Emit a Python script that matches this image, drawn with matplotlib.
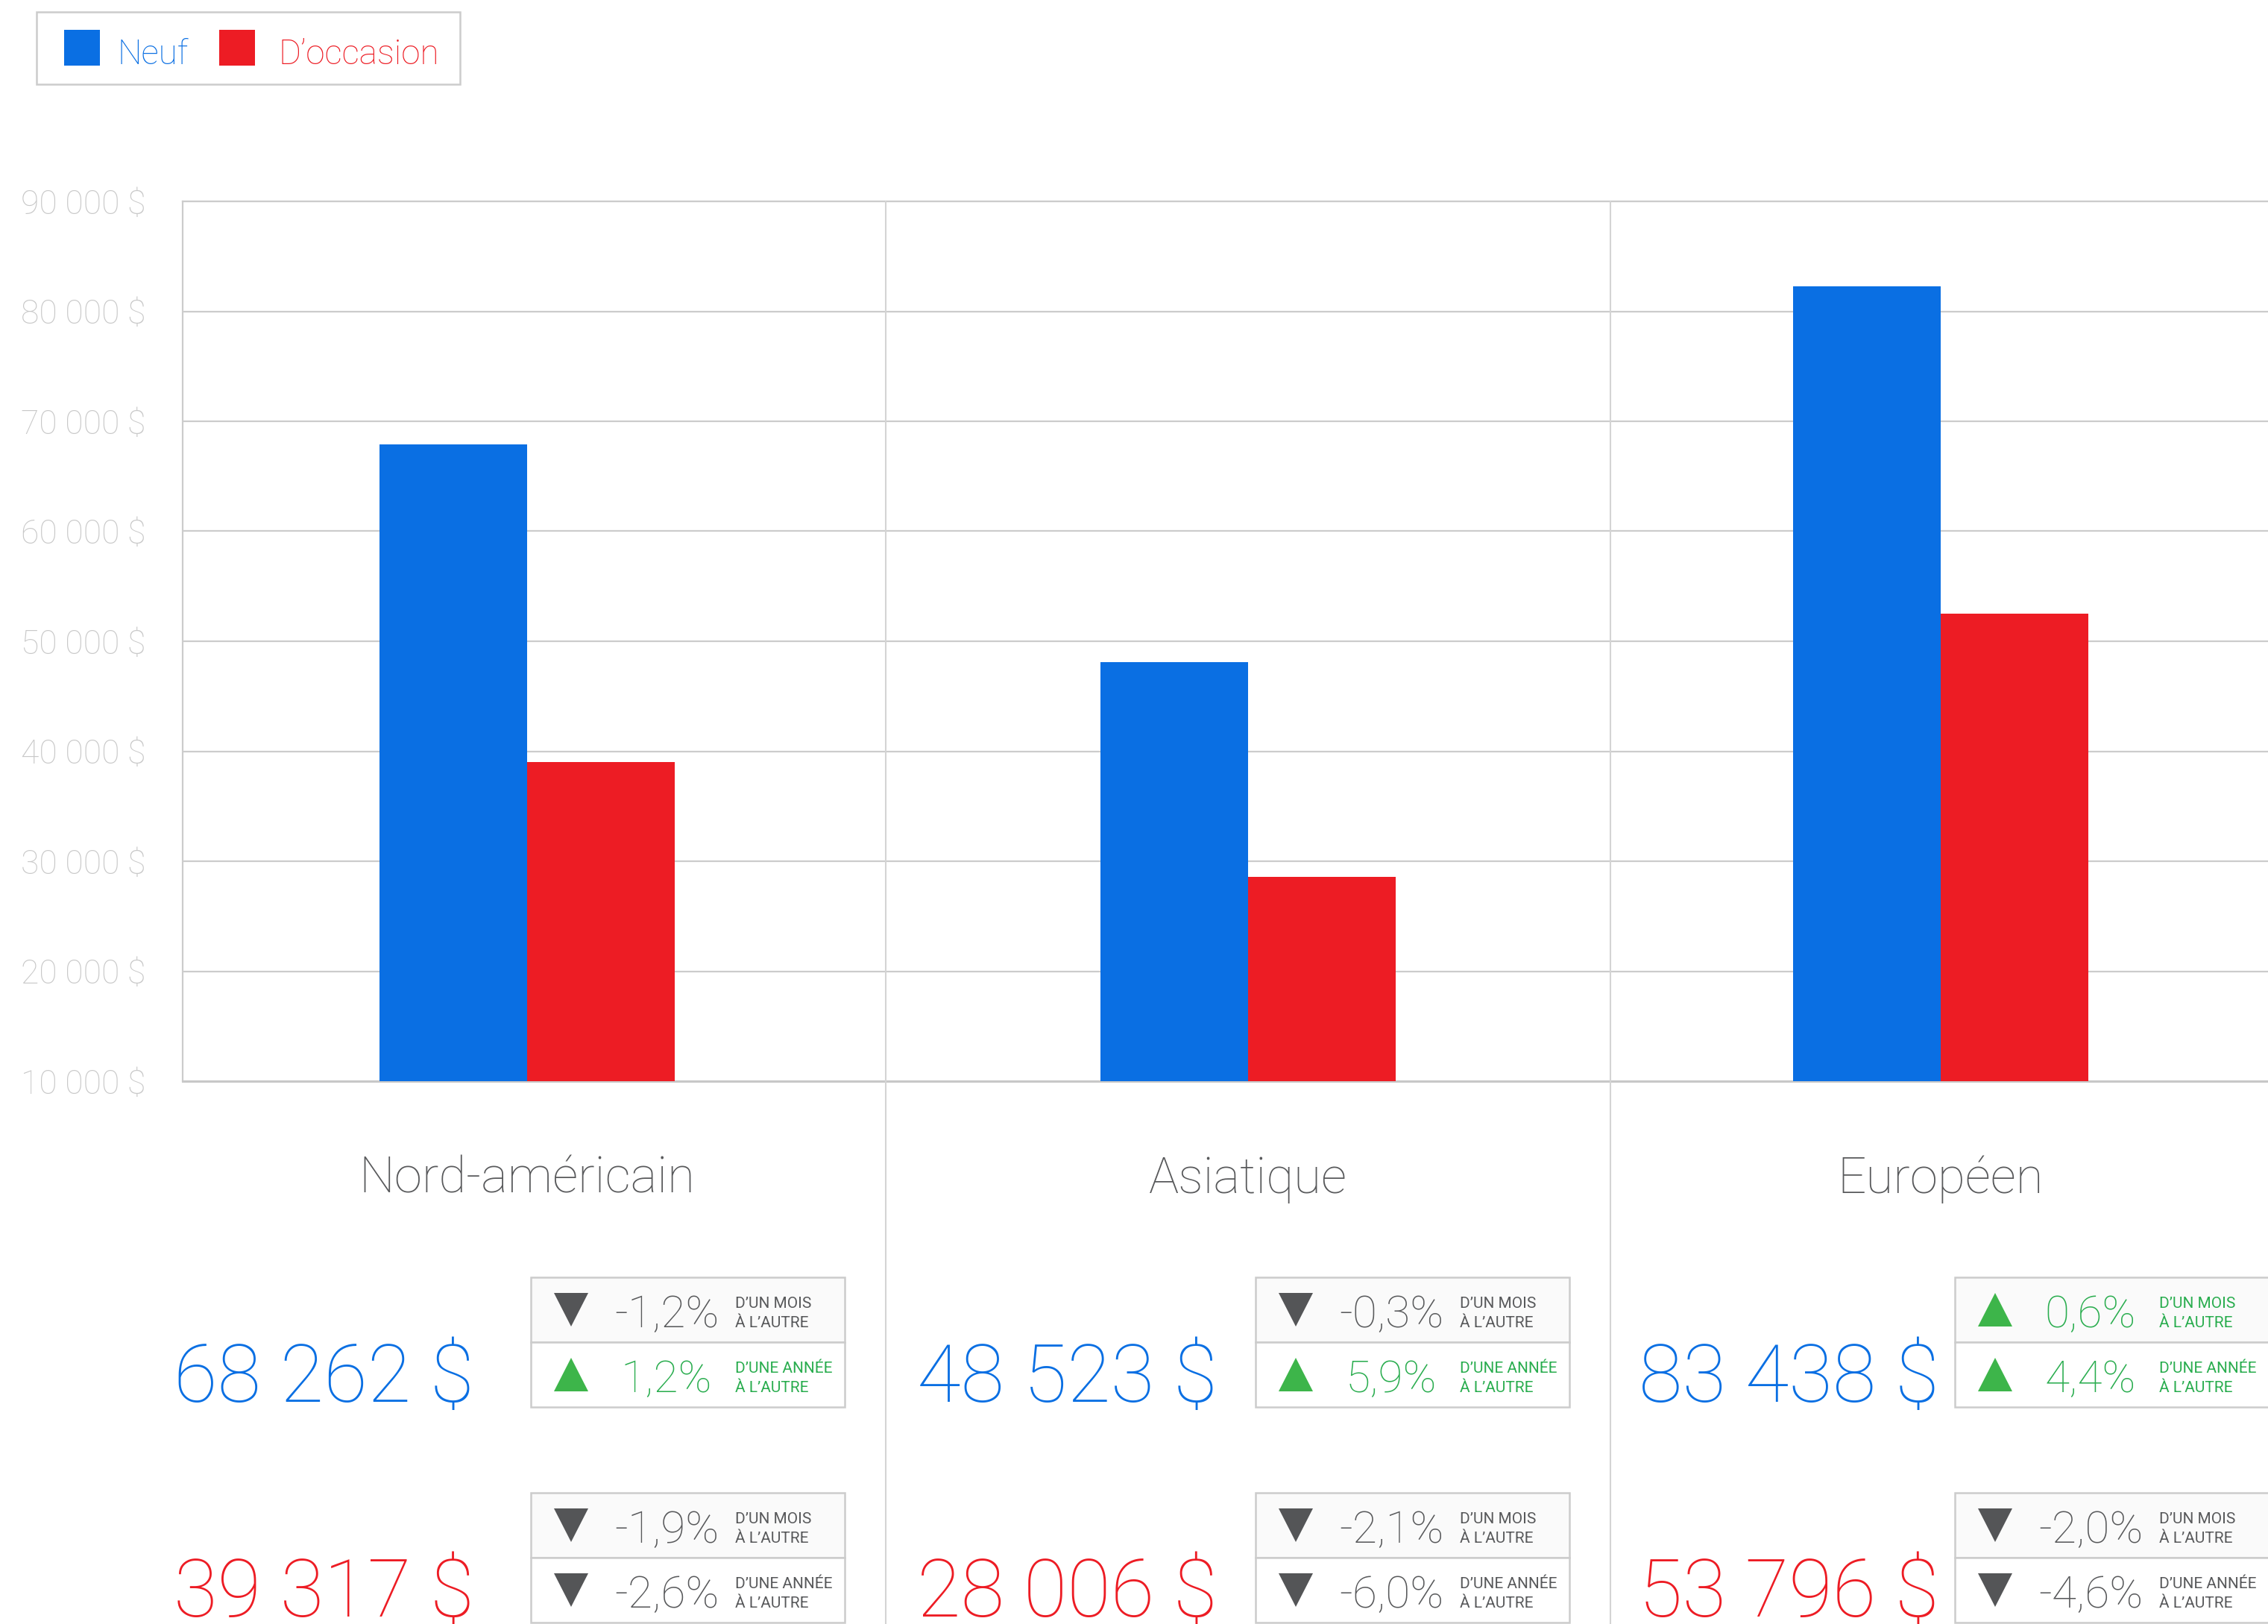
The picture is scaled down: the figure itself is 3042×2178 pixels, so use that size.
import numpy as np
from matplotlib import pyplot as plt
from matplotlib.patches import Rectangle, Polygon
from matplotlib.lines import Line2D
from matplotlib.ticker import FuncFormatter
from matplotlib.transforms import blended_transform_factory

# data
categories = ['Nord-américain', 'Asiatique', 'Européen']
# bar heights as drawn in the picture
neuf_bar = [67900, 48100, 82300]
occasion_bar = [39000, 28600, 52500]
# headline figures printed under each group
neuf = [68262, 48523, 83438]
occasion = [39317, 28006, 53796]
neuf_mois = [-1.2, -0.3, 0.6]
neuf_annee = [1.2, 5.9, 4.4]
occ_mois = [-1.9, -2.1, -2.0]
occ_annee = [-2.6, -6.0, -4.6]
y_ticks = [10000, 20000, 30000, 40000, 50000, 60000, 70000, 80000, 90000]
period_labels = [('D’UN MOIS', 'À L’AUTRE'), ('D’UNE ANNÉE', 'À L’AUTRE')]

BLUE = '#0a6fe3'
RED = '#ed1c24'
GREEN = '#3db54a'
GREEN_TXT = '#2aad4f'
DARK = '#545557'
TEXT_GRAY = '#58595b'
LINE = '#cccccc'

plt.rcParams['font.family'] = ['Roboto', 'DejaVu Sans']
plt.rcParams['font.weight'] = 'light'

W, H = 3042, 2178
fig = plt.figure(figsize=(W / 100, H / 100), dpi=100)


# helpers to place things in pixel coordinates (y from top)
def fx(x):
    return x / W


def fy(y):
    return 1 - y / H


def fmt_money(v):
    return f"{v:,.0f}".replace(",", " ") + " $"


def fmt_pct(v):
    return f"{v:.1f}".replace(".", ",") + "%"


# main bar chart
ax = fig.add_axes([fx(245), fy(1450), 1 - fx(245), (1450 - 270) / H])
ax.set_facecolor('none')
group_x = np.array([0, 1.02, 2])
bw = 0.209
ax.bar(group_x - bw / 2, neuf_bar, bw, color=BLUE, zorder=3)
ax.bar(group_x + bw / 2, occasion_bar, bw, color=RED, zorder=3)
ax.set_xlim(-0.4873, 2.463)
ax.set_ylim(10000, 90000)
ax.set_yticks(y_ticks)
ax.yaxis.set_major_formatter(FuncFormatter(lambda v, p: fmt_money(v)))
ax.set_xticks([])
ax.tick_params(axis='y', length=0, pad=36, labelsize=32, labelcolor='#c8c8c8')
ax.yaxis.grid(True, color=LINE, lw=1.6, zorder=0)
ax.spines['right'].set_visible(False)
for s in ['left', 'top']:
    ax.spines[s].set_color(LINE)
    ax.spines[s].set_linewidth(1.6)
ax.spines['bottom'].set_color('#c8c8c8')
ax.spines['bottom'].set_linewidth(2.2)

# category labels under the groups
trans = blended_transform_factory(ax.transData, fig.transFigure)
for i, c in enumerate(categories):
    ax.text(group_x[i], fy(1600), c, transform=trans, ha='center', va='baseline',
            fontsize=48.5, color=TEXT_GRAY, clip_on=False)

# column separators
for sx in [1188, 2160]:
    fig.add_artist(Line2D([fx(sx), fx(sx)], [fy(270), 0], transform=fig.transFigure,
                          color='#d4d4d4', lw=1.5))

# legend
fig.add_artist(Rectangle((fx(49), fy(113)), (617 - 49) / W, (113 - 16) / H,
                         transform=fig.transFigure, facecolor='white', edgecolor=LINE, lw=1.8))
for lx, tx, col, lab in [(86, 157, BLUE, 'Neuf'), (294, 373, RED, 'D’occasion')]:
    fig.add_artist(Rectangle((fx(lx), fy(88)), 48 / W, 48 / H, transform=fig.transFigure,
                             facecolor=col, edgecolor='none'))
    fig.text(fx(tx), fy(86), lab, color=col, fontsize=33, va='baseline', ha='left')


def triangle(cx, cy, up, color):
    if up:
        pts = [(cx - 23, cy + 22.5), (cx + 23, cy + 22.5), (cx, cy - 22.5)]
    else:
        pts = [(cx - 23, cy - 22.5), (cx + 23, cy - 22.5), (cx, cy + 22.5)]
    pts = [(fx(a), fy(b)) for a, b in pts]
    fig.add_artist(Polygon(pts, closed=True, transform=fig.transFigure,
                           facecolor=color, edgecolor='none'))


def stat_box(left, top, values):
    row_h = 87
    for r, val in enumerate(values):
        rt = top + r * row_h
        bg = '#fafafa' if r == 0 else 'white'
        fig.add_artist(Rectangle((fx(left), fy(rt + row_h)), 421 / W, row_h / H,
                                 transform=fig.transFigure, facecolor=bg,
                                 edgecolor=LINE, lw=1.8))
        up = val > 0
        col = GREEN_TXT if up else TEXT_GRAY
        triangle(left + 54, rt + 43.5, up, GREEN if up else DARK)
        fig.text(fx(left + 182), fy(rt + 67), fmt_pct(val), color=col, fontsize=43.5,
                 ha='center', va='baseline')
        l1, l2 = period_labels[r]
        for txt, base in [(l1, rt + 41), (l2, rt + 67)]:
            fig.text(fx(left + 274), fy(base), txt, color=col, fontsize=15,
                     fontweight='normal', ha='left', va='baseline')


num_left = [233, 1230, 2198]
box_left = [712, 1684, 2622]
for i in range(len(categories)):
    fig.text(fx(num_left[i]), fy(1880), fmt_money(neuf[i]), color=BLUE, fontsize=77,
             ha='left', va='baseline')
    fig.text(fx(num_left[i]), fy(2168), fmt_money(occasion[i]), color=RED, fontsize=77,
             ha='left', va='baseline')
    stat_box(box_left[i], 1713, [neuf_mois[i], neuf_annee[i]])
    stat_box(box_left[i], 2002, [occ_mois[i], occ_annee[i]])

fig.savefig('out.png', dpi=100, facecolor='white')
